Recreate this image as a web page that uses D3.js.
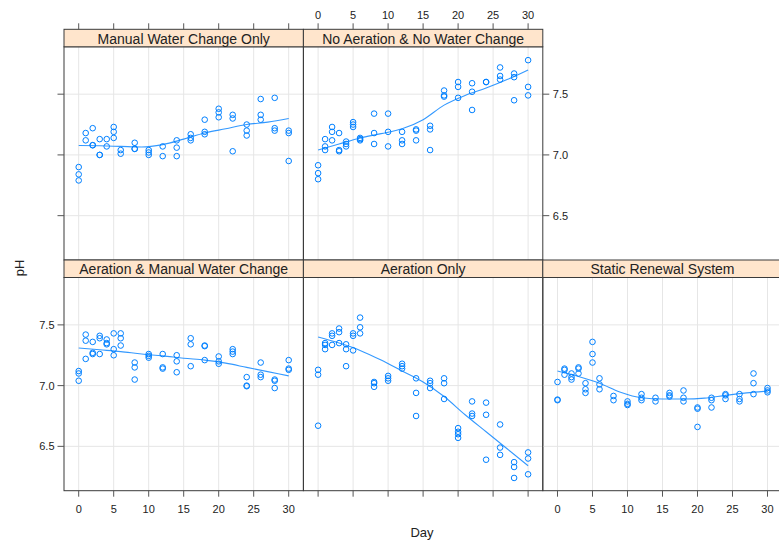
<!DOCTYPE html>
<html>
<head>
<meta charset="utf-8">
<script src="https://cdn.jsdelivr.net/npm/d3@7"></script>
<style>
  html, body { margin: 0; padding: 0; background: #fff; }
  svg { display: block; font-family: "Liberation Sans", Arial, sans-serif; }
</style>
</head>
<body>
<svg id="chart" width="779" height="544"></svg>
<script>
// ---------- DATA ----------
const sampleDays = [0, 1, 2, 3, 4, 5, 6, 8, 10, 12, 14, 16, 18, 20, 22, 24, 26, 28, 30];

const manualOnlyPH = [
  [6.90, 6.84, 6.79], [7.18, 7.12], [7.22, 7.08, 7.08], [7.13, 7.00, 7.00], [7.13, 7.07],
  [7.23, 7.19, 7.14], [7.04, 7.01], [7.10, 7.05, 7.05], [7.04, 7.02, 7.00], [7.07, 6.99],
  [7.12, 7.06, 6.99], [7.17, 7.14, 7.12], [7.29, 7.19, 7.17], [7.38, 7.35, 7.31], [7.33, 7.30, 7.03],
  [7.25, 7.20, 7.16], [7.46, 7.33, 7.29], [7.47, 7.22, 7.20], [7.20, 7.18, 6.95]
];
const noAerationPH = [
  [6.915, 6.85, 6.80], [7.13, 7.07, 7.04], [7.23, 7.19, 7.12], [7.18, 7.04, 7.03], [7.11, 7.09, 7.07],
  [7.27, 7.25, 7.23], [7.14, 7.13, 7.12], [7.34, 7.18, 7.09], [7.34, 7.19, 7.07], [7.19, 7.12, 7.09],
  [7.21, 7.20, 7.12], [7.24, 7.21, 7.04], [7.53, 7.49, 7.48], [7.60, 7.56, 7.47], [7.59, 7.52, 7.37],
  [7.60, 7.60], [7.72, 7.65, 7.62], [7.67, 7.64, 7.45], [7.78, 7.56, 7.49]
];
const aerationManualPH = [
  [7.12, 7.10, 7.04], [7.42, 7.37, 7.22], [7.36, 7.27, 7.26], [7.41, 7.39, 7.26], [7.38, 7.35, 7.34],
  [7.43, 7.30, 7.25], [7.43, 7.39, 7.33], [7.19, 7.15, 7.05], [7.26, 7.245, 7.23], [7.26, 7.15, 7.14],
  [7.25, 7.20, 7.11], [7.39, 7.34, 7.16], [7.33, 7.325, 7.21], [7.24, 7.20, 7.18], [7.30, 7.28, 7.26],
  [7.07, 7.00, 6.995], [7.19, 7.09, 7.07], [7.05, 7.04, 6.98], [7.21, 7.14, 7.13]
];
const aerationOnlyPH = [
  [7.13, 7.09, 6.67], [7.35, 7.335, 7.30], [7.43, 7.41, 7.335], [7.47, 7.44, 7.35], [7.34, 7.30, 7.16],
  [7.43, 7.41, 7.29], [7.56, 7.48, 7.43], [7.03, 7.02, 6.99], [7.08, 7.06, 7.04], [7.18, 7.16, 7.14],
  [7.06, 6.94, 6.75], [7.04, 7.02, 6.98], [7.06, 7.02, 6.89], [6.65, 6.62, 6.60, 6.57], [6.87, 6.77, 6.75],
  [6.86, 6.76, 6.39], [6.68, 6.49, 6.43], [6.37, 6.33, 6.24], [6.45, 6.40, 6.27]
];
const staticRenewalPH = [
  [7.03, 6.885, 6.88], [7.14, 7.13, 7.09], [7.10, 7.07, 7.05], [7.15, 7.14, 7.10], [7.02, 6.97, 6.94],
  [7.36, 7.26, 7.19], [7.06, 7.01, 6.97], [6.915, 6.88], [6.87, 6.85, 6.84], [6.93, 6.90, 6.88],
  [6.90, 6.87], [6.94, 6.92, 6.91], [6.96, 6.90, 6.87], [6.82, 6.81, 6.66], [6.90, 6.88, 6.82],
  [6.93, 6.92, 6.89], [6.93, 6.89, 6.87], [7.10, 7.02, 6.93], [6.98, 6.96, 6.945]
];

// smooth (loess) curves
const smoothDays = [0, 3, 6, 9, 12, 15, 18, 21, 24, 27, 30];
const manualOnlySmooth      = [7.077, 7.075, 7.07, 7.065, 7.085, 7.13, 7.18, 7.215, 7.25, 7.27, 7.30];
const noAerationSmooth      = [7.04, 7.09, 7.14, 7.175, 7.215, 7.29, 7.41, 7.49, 7.55, 7.62, 7.70];
const aerationManualSmooth  = [7.31, 7.295, 7.28, 7.26, 7.245, 7.225, 7.21, 7.185, 7.15, 7.115, 7.08];
const aerationOnlySmooth    = [7.40, 7.35, 7.29, 7.21, 7.12, 7.03, 6.91, 6.76, 6.62, 6.48, 6.34];
const staticRenewalSmooth   = [7.12, 7.075, 7.02, 6.945, 6.90, 6.89, 6.89, 6.897, 6.92, 6.94, 6.955];

const panelNames = [
  "Manual Water Change Only", "No Aeration & No Water Change",
  "Aeration & Manual Water Change", "Aeration Only", "Static Renewal System"
];
const xTicks = [0, 5, 10, 15, 20, 25, 30];
const yTicks = [6.5, 7.0, 7.5];
const xLabel = "Day";
const yLabel = "pH";

// ---------- LAYOUT ----------
const colLeft = [64, 303.4, 542.8];
const panelW = 239.4, panelH = 213.2, stripH = 17.5;
const rowStripTop = [29.3, 260];
const panels = [
  { name: panelNames[0], ph: manualOnlyPH,     smooth: manualOnlySmooth,     col: 0, row: 0 },
  { name: panelNames[1], ph: noAerationPH,     smooth: noAerationSmooth,     col: 1, row: 0 },
  { name: panelNames[2], ph: aerationManualPH, smooth: aerationManualSmooth, col: 0, row: 1 },
  { name: panelNames[3], ph: aerationOnlyPH,   smooth: aerationOnlySmooth,   col: 1, row: 1 },
  { name: panelNames[4], ph: staticRenewalPH,  smooth: staticRenewalSmooth,  col: 2, row: 1 }
];

const x = d3.scaleLinear().domain([-2.1, 32.1]).range([0, panelW]);
const y = d3.scaleLinear().domain([6.135, 7.89]).range([panelH, 0]);

const blue = "#0080ff";
const frame = "#3a3a3a";
const tickCol = "#555";
const textCol = "#222";

const svg = d3.select("#chart");

panels.forEach(p => {
  const left = colLeft[p.col];
  const stripTop = rowStripTop[p.row];
  const top = stripTop + stripH;
  const g = svg.append("g").attr("transform", `translate(${left},${top})`);

  const clipId = "clip" + p.col + p.row;
  g.append("clipPath").attr("id", clipId)
    .append("rect").attr("width", panelW).attr("height", panelH);

  // grid
  const grid = g.append("g").attr("stroke", "#e6e6e6").attr("stroke-width", 1);
  grid.selectAll("line.v").data(xTicks).join("line")
    .attr("x1", d => x(d)).attr("x2", d => x(d)).attr("y1", 0).attr("y2", panelH);
  grid.selectAll("line.h").data(yTicks).join("line")
    .attr("x1", 0).attr("x2", panelW).attr("y1", d => y(d)).attr("y2", d => y(d));

  // points
  const pts = [];
  sampleDays.forEach((d, i) => p.ph[i].forEach(v => pts.push([d, v])));
  const plot = g.append("g").attr("clip-path", `url(#${clipId})`);
  plot.selectAll("circle").data(pts).join("circle")
    .attr("cx", d => x(d[0])).attr("cy", d => y(d[1])).attr("r", 2.8)
    .attr("fill", "none").attr("stroke", blue).attr("stroke-width", 1);

  // smooth line
  const line = d3.line().x(d => x(d[0])).y(d => y(d[1])).curve(d3.curveMonotoneX);
  plot.append("path").datum(smoothDays.map((d, i) => [d, p.smooth[i]]))
    .attr("d", line).attr("fill", "none").attr("stroke", blue)
    .attr("stroke-opacity", 0.8).attr("stroke-width", 1.1);

  // frame
  g.append("rect").attr("width", panelW).attr("height", panelH)
    .attr("fill", "none").attr("stroke", frame).attr("stroke-width", 1);

  // strip
  const s = svg.append("g").attr("transform", `translate(${left},${stripTop})`);
  s.append("rect").attr("width", panelW).attr("height", stripH)
    .attr("fill", "#ffe5cc").attr("stroke", frame).attr("stroke-width", 1);
  s.append("text").attr("x", panelW / 2).attr("y", stripH / 2 + 0.5)
    .attr("text-anchor", "middle").attr("dominant-baseline", "central")
    .attr("font-size", 14).attr("fill", textCol).text(p.name);
});

// ---------- AXES ----------
function xAxis(col, yPos, dir, labels) {
  const g = svg.append("g").attr("transform", `translate(${colLeft[col]},${yPos})`);
  g.selectAll("line").data(xTicks).join("line")
    .attr("x1", d => x(d)).attr("x2", d => x(d))
    .attr("y1", 0).attr("y2", dir * 6).attr("stroke", tickCol);
  if (labels) {
    g.selectAll("text").data(xTicks).join("text")
      .attr("x", d => x(d)).attr("y", dir > 0 ? 18.5 : -14.5)
      .attr("text-anchor", "middle").attr("dominant-baseline", "central")
      .attr("font-size", 11).attr("fill", textCol).text(d => d);
  }
}
function yAxis(xPos, row, dir, labels) {
  const top = rowStripTop[row] + stripH;
  const g = svg.append("g").attr("transform", `translate(${xPos},${top})`);
  g.selectAll("line").data(yTicks).join("line")
    .attr("y1", d => y(d)).attr("y2", d => y(d))
    .attr("x1", 0).attr("x2", dir * 6.5).attr("stroke", tickCol);
  if (labels) {
    g.selectAll("text").data(yTicks).join("text")
      .attr("y", d => y(d)).attr("x", dir > 0 ? 10 : -9.5)
      .attr("text-anchor", dir > 0 ? "start" : "end").attr("dominant-baseline", "central")
      .attr("font-size", 11).attr("fill", textCol).text(d => d3.format(".1f")(d));
  }
}
// top axes (above top-row strips)
xAxis(0, rowStripTop[0], -1, false);
xAxis(1, rowStripTop[0], -1, true);
// bottom axes
const bottomY = rowStripTop[1] + stripH + panelH;
xAxis(0, bottomY, 1, true);
xAxis(1, bottomY, 1, false);
xAxis(2, bottomY, 1, true);
// left axes
yAxis(colLeft[0], 0, -1, false);
yAxis(colLeft[0], 1, -1, true);
// right axes
yAxis(colLeft[1] + panelW, 0, 1, true);
yAxis(colLeft[2] + panelW, 1, 1, false);

// axis titles
svg.append("text").attr("x", 422).attr("y", 532)
  .attr("text-anchor", "middle").attr("dominant-baseline", "central")
  .attr("font-size", 13).attr("fill", textCol).text(xLabel);
svg.append("text").attr("transform", "translate(19,268) rotate(-90)")
  .attr("text-anchor", "middle").attr("dominant-baseline", "central")
  .attr("font-size", 13).attr("fill", textCol).text(yLabel);
</script>
</body>
</html>
